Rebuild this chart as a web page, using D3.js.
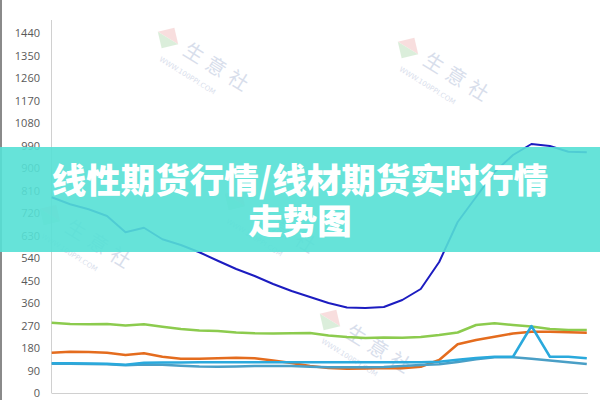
<!DOCTYPE html>
<html><head><meta charset="utf-8">
<script src="https://cdn.jsdelivr.net/npm/d3@7"></script>
<style>html,body{margin:0;padding:0;background:#fff;}svg{display:block;}</style>
</head><body>
<svg id="c" width="600" height="400"></svg>
<script>
const yTicks = [0,90,180,270,360,450,540,630,720,810,900,990,1080,1170,1260,1350,1440];
const points = d3.range(30);
const navySeries  = [783,755,735,708,643,661,615,592,563,529,496,468,436,408,384,360,342,340,344,372,416,524,684,784,884,952,996,988,965,963];
const greenSeries = [281,276,275,276,270,275,265,256,250,248,242,239,238,239,240,230,224,220,222,221,224,232,242,272,279,272,266,256,252,252];
const orangeSeries= [161,165,164,161,152,159,145,137,137,139,141,139,130,120,108,100,97,98,100,99,105,132,195,212,225,238,245,245,243,241];
const steelSeries = [117,117,116,115,111,114,113,109,106,105,106,108,108,108,105,103,103,103,104,108,112,115,124,135,143,143,137,130,123,116];
const cyanSeries  = [119,119,118,117,113,121,122,122,123,123,123,123,123,123,123,123,123,123,123,123,123,125,133,140,145,145,268,145,145,139];
const titleLines = ["线性期货行情/线材期货实时行情","走势图"];

const svg = d3.select("#c");
const x = d3.scaleLinear().domain([0,29]).range([51.7,586.8]);
const y = d3.scaleLinear().domain([0,1440]).range([393,33]);

// left border
svg.append("rect").attr("x",0).attr("y",0).attr("width",2).attr("height",400).attr("fill","#8a8a8a");

// watermarks
const wm = [[168,38],[408,48],[235,200],[330,320],[50,215]];
wm.forEach(([wx,wy])=>{
  const g = svg.append("g").attr("transform",`translate(${wx},${wy}) rotate(32)`).attr("opacity",0.2);
  g.append("path").attr("d","M0,-12 L12,0 L-12,0 Z").attr("fill","#e06060");
  g.append("path").attr("d","M-12,0 L12,0 L0,12 Z").attr("fill","#50b050");
  g.append("text").attr("x",20).attr("y",6).attr("font-family","Noto Sans CJK SC").attr("font-size",20).attr("fill","#4060a0").attr("letter-spacing",6).text("生意社");
  g.append("text").attr("x",4).attr("y",24).attr("font-family","DejaVu Sans").attr("font-size",7).attr("fill","#4060a0").text("WWW.100PPI.COM");
});

// axes lines
svg.append("line").attr("x1",51.5).attr("x2",51.5).attr("y1",20).attr("y2",393).attr("stroke","#d0d0d0").attr("stroke-width",1);
svg.append("line").attr("x1",51.5).attr("x2",588).attr("y1",393.5).attr("y2",393.5).attr("stroke","#d0d0d0").attr("stroke-width",1);

const yAxis = d3.axisLeft(y).tickValues(yTicks).tickSize(0).tickPadding(0).tickFormat(d3.format("d"));
const ga = svg.append("g").attr("transform","translate(40,0)").call(yAxis);
ga.select(".domain").remove();
ga.selectAll("text").attr("font-family","Open Sans, Liberation Sans, sans-serif").attr("font-size",11).attr("fill","#595959");

const line = d3.line().x((d,i)=>x(i)).y(d=>y(d));
const series = [
  [greenSeries,"#8ccb4e"],
  [orangeSeries,"#e46c1e"],
  [steelSeries,"#4a9fc6"],
  [cyanSeries,"#2aa9dc"],
  [navySeries,"#1c1cc0"]
];
series.forEach(([d,c])=>{
  svg.append("path").datum(d).attr("d",line).attr("fill","none").attr("stroke",c).attr("stroke-width",c==="#1c1cc0"?2:2.5).attr("stroke-linejoin","round");
});

// banner
svg.append("rect").attr("x",0).attr("y",147).attr("width",600).attr("height",105).attr("fill","#55e0d5").attr("opacity",0.9);
const title = svg.append("text").attr("text-anchor","middle")
  .attr("font-family","Noto Sans CJK SC").attr("font-weight",900).attr("font-size",34.5).attr("fill","#fff");
title.selectAll("tspan").data(titleLines).join("tspan")
  .attr("x",300).attr("y",(d,i)=>193+i*41).text(d=>d);
</script>
</body></html>
